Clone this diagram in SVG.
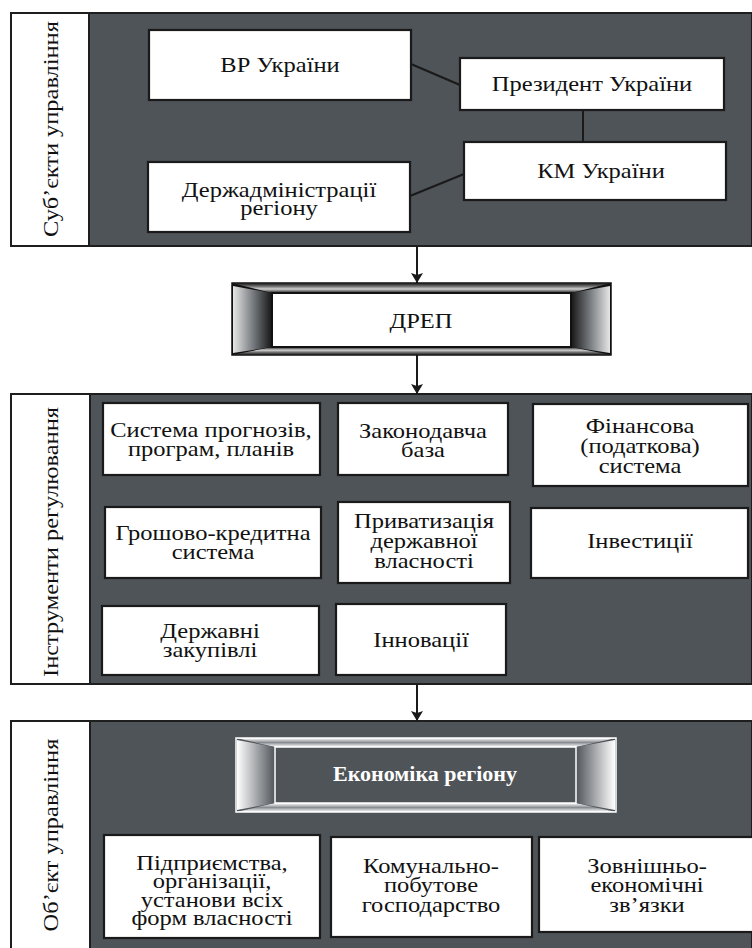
<svg xmlns="http://www.w3.org/2000/svg" width="752" height="948" viewBox="0 0 752 948">
<defs>
<style>
.panel{fill:#4f5458;stroke:#1e1e1e;stroke-width:2}
.lab{fill:#fff;stroke:#1e1e1e;stroke-width:2}
.box{fill:#fff;stroke:#1a1a1a;stroke-width:2.2}
.t{font-size:21.5px;fill:#111;text-anchor:middle}
.side{font-size:22px;fill:#111;text-anchor:middle}
.conn{stroke:#1a1a1a;stroke-width:2;fill:none}
</style>
<marker id="ah" viewBox="0 0 10 20" refX="10" refY="10" markerWidth="10" markerHeight="20" markerUnits="userSpaceOnUse" orient="auto">
<path d="M0,4 L10,10 L0,16 L2,10 Z" fill="#1a1a1a"/>
</marker>
<linearGradient id="gL" x1="0" y1="0" x2="1" y2="0"><stop offset="0" stop-color="#e6e6e6"/><stop offset="0.5" stop-color="#7a7e82"/><stop offset="1" stop-color="#151515"/></linearGradient>
<linearGradient id="gR" x1="0" y1="0" x2="1" y2="0"><stop offset="0" stop-color="#151515"/><stop offset="0.5" stop-color="#7a7e82"/><stop offset="1" stop-color="#e6e6e6"/></linearGradient>
<linearGradient id="gT" x1="0" y1="0" x2="0" y2="1"><stop offset="0" stop-color="#111"/><stop offset="0.35" stop-color="#777"/><stop offset="0.6" stop-color="#d0d0d0"/><stop offset="1" stop-color="#1a1a1a"/></linearGradient>
<linearGradient id="gB" x1="0" y1="0" x2="0" y2="1"><stop offset="0" stop-color="#1a1a1a"/><stop offset="0.4" stop-color="#d0d0d0"/><stop offset="0.65" stop-color="#777"/><stop offset="1" stop-color="#111"/></linearGradient>
<linearGradient id="eL" x1="0" y1="0" x2="1" y2="0"><stop offset="0" stop-color="#ffffff"/><stop offset="1" stop-color="#50555a"/></linearGradient>
<linearGradient id="eR" x1="0" y1="0" x2="1" y2="0"><stop offset="0" stop-color="#50555a"/><stop offset="1" stop-color="#ffffff"/></linearGradient>
<linearGradient id="eT" x1="0" y1="0" x2="0" y2="1"><stop offset="0" stop-color="#fff"/><stop offset="0.5" stop-color="#8a8e92"/><stop offset="1" stop-color="#fff"/></linearGradient>
</defs>
<g font-family="'Liberation Serif', 'DejaVu Serif', serif">
<g id="section-subjects">
<rect class="panel" x="11" y="13" width="741" height="233"/>
<rect class="lab" x="11" y="13" width="78" height="233"/>
<text class="side" transform="translate(58,129) rotate(-90) scale(1.11,1)">Суб’єкти управління</text>
</g>

<g id="section-instruments">
<rect class="panel" x="11" y="394" width="741" height="290"/>
<rect class="lab" x="11" y="394" width="79" height="290"/>
<text class="side" transform="translate(58,542) rotate(-90) scale(1.11,1)">Інструменти регулювання</text>
</g>

<g id="section-object">
<rect class="panel" x="11" y="721" width="741" height="230"/>
<rect class="lab" x="11" y="721" width="79" height="230"/>
<text class="side" transform="translate(58,835) rotate(-90) scale(1.11,1)">Об’єкт управління</text>
</g>

<g id="connectors">
<line class="conn" x1="411" y1="64" x2="460" y2="85"/>
<line class="conn" x1="583" y1="110" x2="583" y2="142"/>
<line class="conn" x1="410" y1="196" x2="464" y2="174"/>
<line class="conn" x1="417" y1="246" x2="417" y2="283" marker-end="url(#ah)"/>
<line class="conn" x1="417" y1="355" x2="417" y2="394" marker-end="url(#ah)"/>
<line class="conn" x1="417" y1="684" x2="417" y2="721" marker-end="url(#ah)"/>
</g>

<g id="vr">
<rect class="box" x="149" y="30" width="262" height="70"/>
<g transform="translate(280,0) scale(1.14,1)"><text class="t" x="0" y="72">ВР України</text></g>
</g>
<g id="president">
<rect class="box" x="460" y="58" width="264" height="52"/>
<g transform="translate(592,0) scale(1.14,1)"><text class="t" x="0" y="91">Президент України</text></g>
</g>
<g id="km">
<rect class="box" x="464" y="142" width="262" height="58"/>
<g transform="translate(601,0) scale(1.14,1)"><text class="t" x="0" y="178">КМ України</text></g>
</g>
<g id="derzhadmin">
<rect class="box" x="148" y="162" width="262" height="70"/>
<g transform="translate(279,0) scale(1.14,1)"><text class="t" x="0" y="197">Держадміністрації</text>
<text class="t" x="0" y="215">регіону</text></g>
</g>

<g id="drep">
<rect x="232" y="283" width="379" height="72" fill="#111" stroke="#111" stroke-width="1.5"/>
<path d="M232,283 L611,283 L571,293 L272,293 Z" fill="url(#gT)"/>
<path d="M232,355 L611,355 L571,347 L272,347 Z" fill="url(#gB)"/>
<path d="M233,286 L272,293 L272,347 L233,353 Z" fill="url(#gL)"/>
<path d="M610,286 L571,293 L571,347 L610,353 Z" fill="url(#gR)"/>
<rect x="272" y="293" width="299" height="54" fill="#fff" stroke="#111" stroke-width="2"/>
<g transform="translate(421,0) scale(1.14,1)"><text class="t" x="0" y="328">ДРЕП</text></g>
</g>

<g id="prognoz">
<rect class="box" x="103" y="403" width="217" height="72"/>
<g transform="translate(211,0) scale(1.14,1)"><text class="t" x="0" y="437">Система прогнозів,</text>
<text class="t" x="0" y="456">програм, планів</text></g>
</g>
<g id="zakon">
<rect class="box" x="338" y="403" width="170" height="72"/>
<g transform="translate(423,0) scale(1.14,1)"><text class="t" x="0" y="438">Законодавча</text>
<text class="t" x="0" y="457">база</text></g>
</g>
<g id="finans">
<rect class="box" x="533" y="404" width="215" height="82"/>
<g transform="translate(640,0) scale(1.14,1)"><text class="t" x="0" y="433">Фінансова</text>
<text class="t" x="0" y="453">(податкова)</text>
<text class="t" x="0" y="473">система</text></g>
</g>
<g id="groshovo">
<rect class="box" x="105" y="507" width="216" height="71"/>
<g transform="translate(213,0) scale(1.14,1)"><text class="t" x="0" y="540">Грошово-кредитна</text>
<text class="t" x="0" y="559">система</text></g>
</g>
<g id="pryvat">
<rect class="box" x="338" y="502" width="172" height="81"/>
<g transform="translate(424,0) scale(1.14,1)"><text class="t" x="0" y="528">Приватизація</text>
<text class="t" x="0" y="548">державної</text>
<text class="t" x="0" y="568">власності</text></g>
</g>
<g id="invest">
<rect class="box" x="531" y="508" width="217" height="70"/>
<g transform="translate(640,0) scale(1.14,1)"><text class="t" x="0" y="548">Інвестиції</text></g>
</g>
<g id="zakupivli">
<rect class="box" x="102" y="606" width="217" height="69"/>
<g transform="translate(210,0) scale(1.14,1)"><text class="t" x="0" y="638">Державні</text>
<text class="t" x="0" y="657">закупівлі</text></g>
</g>
<g id="innov">
<rect class="box" x="336" y="604" width="170" height="71"/>
<g transform="translate(421,0) scale(1.14,1)"><text class="t" x="0" y="647">Інновації</text></g>
</g>

<g id="ekonomika">
<path d="M236,738 L616,738 L576,747 L275,747 Z" fill="url(#eT)"/>
<path d="M236,812 L616,812 L576,803 L275,803 Z" fill="url(#eT)"/>
<path d="M237,740 L275,747 L275,803 L237,810 Z" fill="url(#eL)"/>
<path d="M615,740 L576,747 L576,803 L615,810 Z" fill="url(#eR)"/>
<rect x="236" y="738" width="380" height="74" fill="none" stroke="#fff" stroke-width="1.5"/>
<rect x="275" y="747" width="301" height="56" fill="#4f5458" stroke="#fff" stroke-width="1.5"/>
<g transform="translate(425,0) scale(1.1,1)"><text x="0" y="781" font-size="20" font-weight="bold" fill="#fff" text-anchor="middle">Економіка регіону</text></g>
</g>

<g id="pidpryemstva">
<rect class="box" x="104" y="835" width="216" height="103"/>
<g transform="translate(212,0) scale(1.14,1)"><text class="t" x="0" y="870">Підприємства,</text>
<text class="t" x="0" y="888">організації,</text>
<text class="t" x="0" y="907">установи всіх</text>
<text class="t" x="0" y="925">форм власності</text></g>
</g>
<g id="komunalno">
<rect class="box" x="331" y="837" width="201" height="100"/>
<g transform="translate(431,0) scale(1.14,1)"><text class="t" x="0" y="873">Комунально-</text>
<text class="t" x="0" y="892">побутове</text>
<text class="t" x="0" y="912">господарство</text></g>
</g>
<g id="zovnishno">
<rect class="box" x="539" y="837" width="215" height="95"/>
<g transform="translate(647,0) scale(1.14,1)"><text class="t" x="0" y="873">Зовнішньо-</text>
<text class="t" x="0" y="892">економічні</text>
<text class="t" x="0" y="912">зв’язки</text></g>
</g>
</g>
</svg>
